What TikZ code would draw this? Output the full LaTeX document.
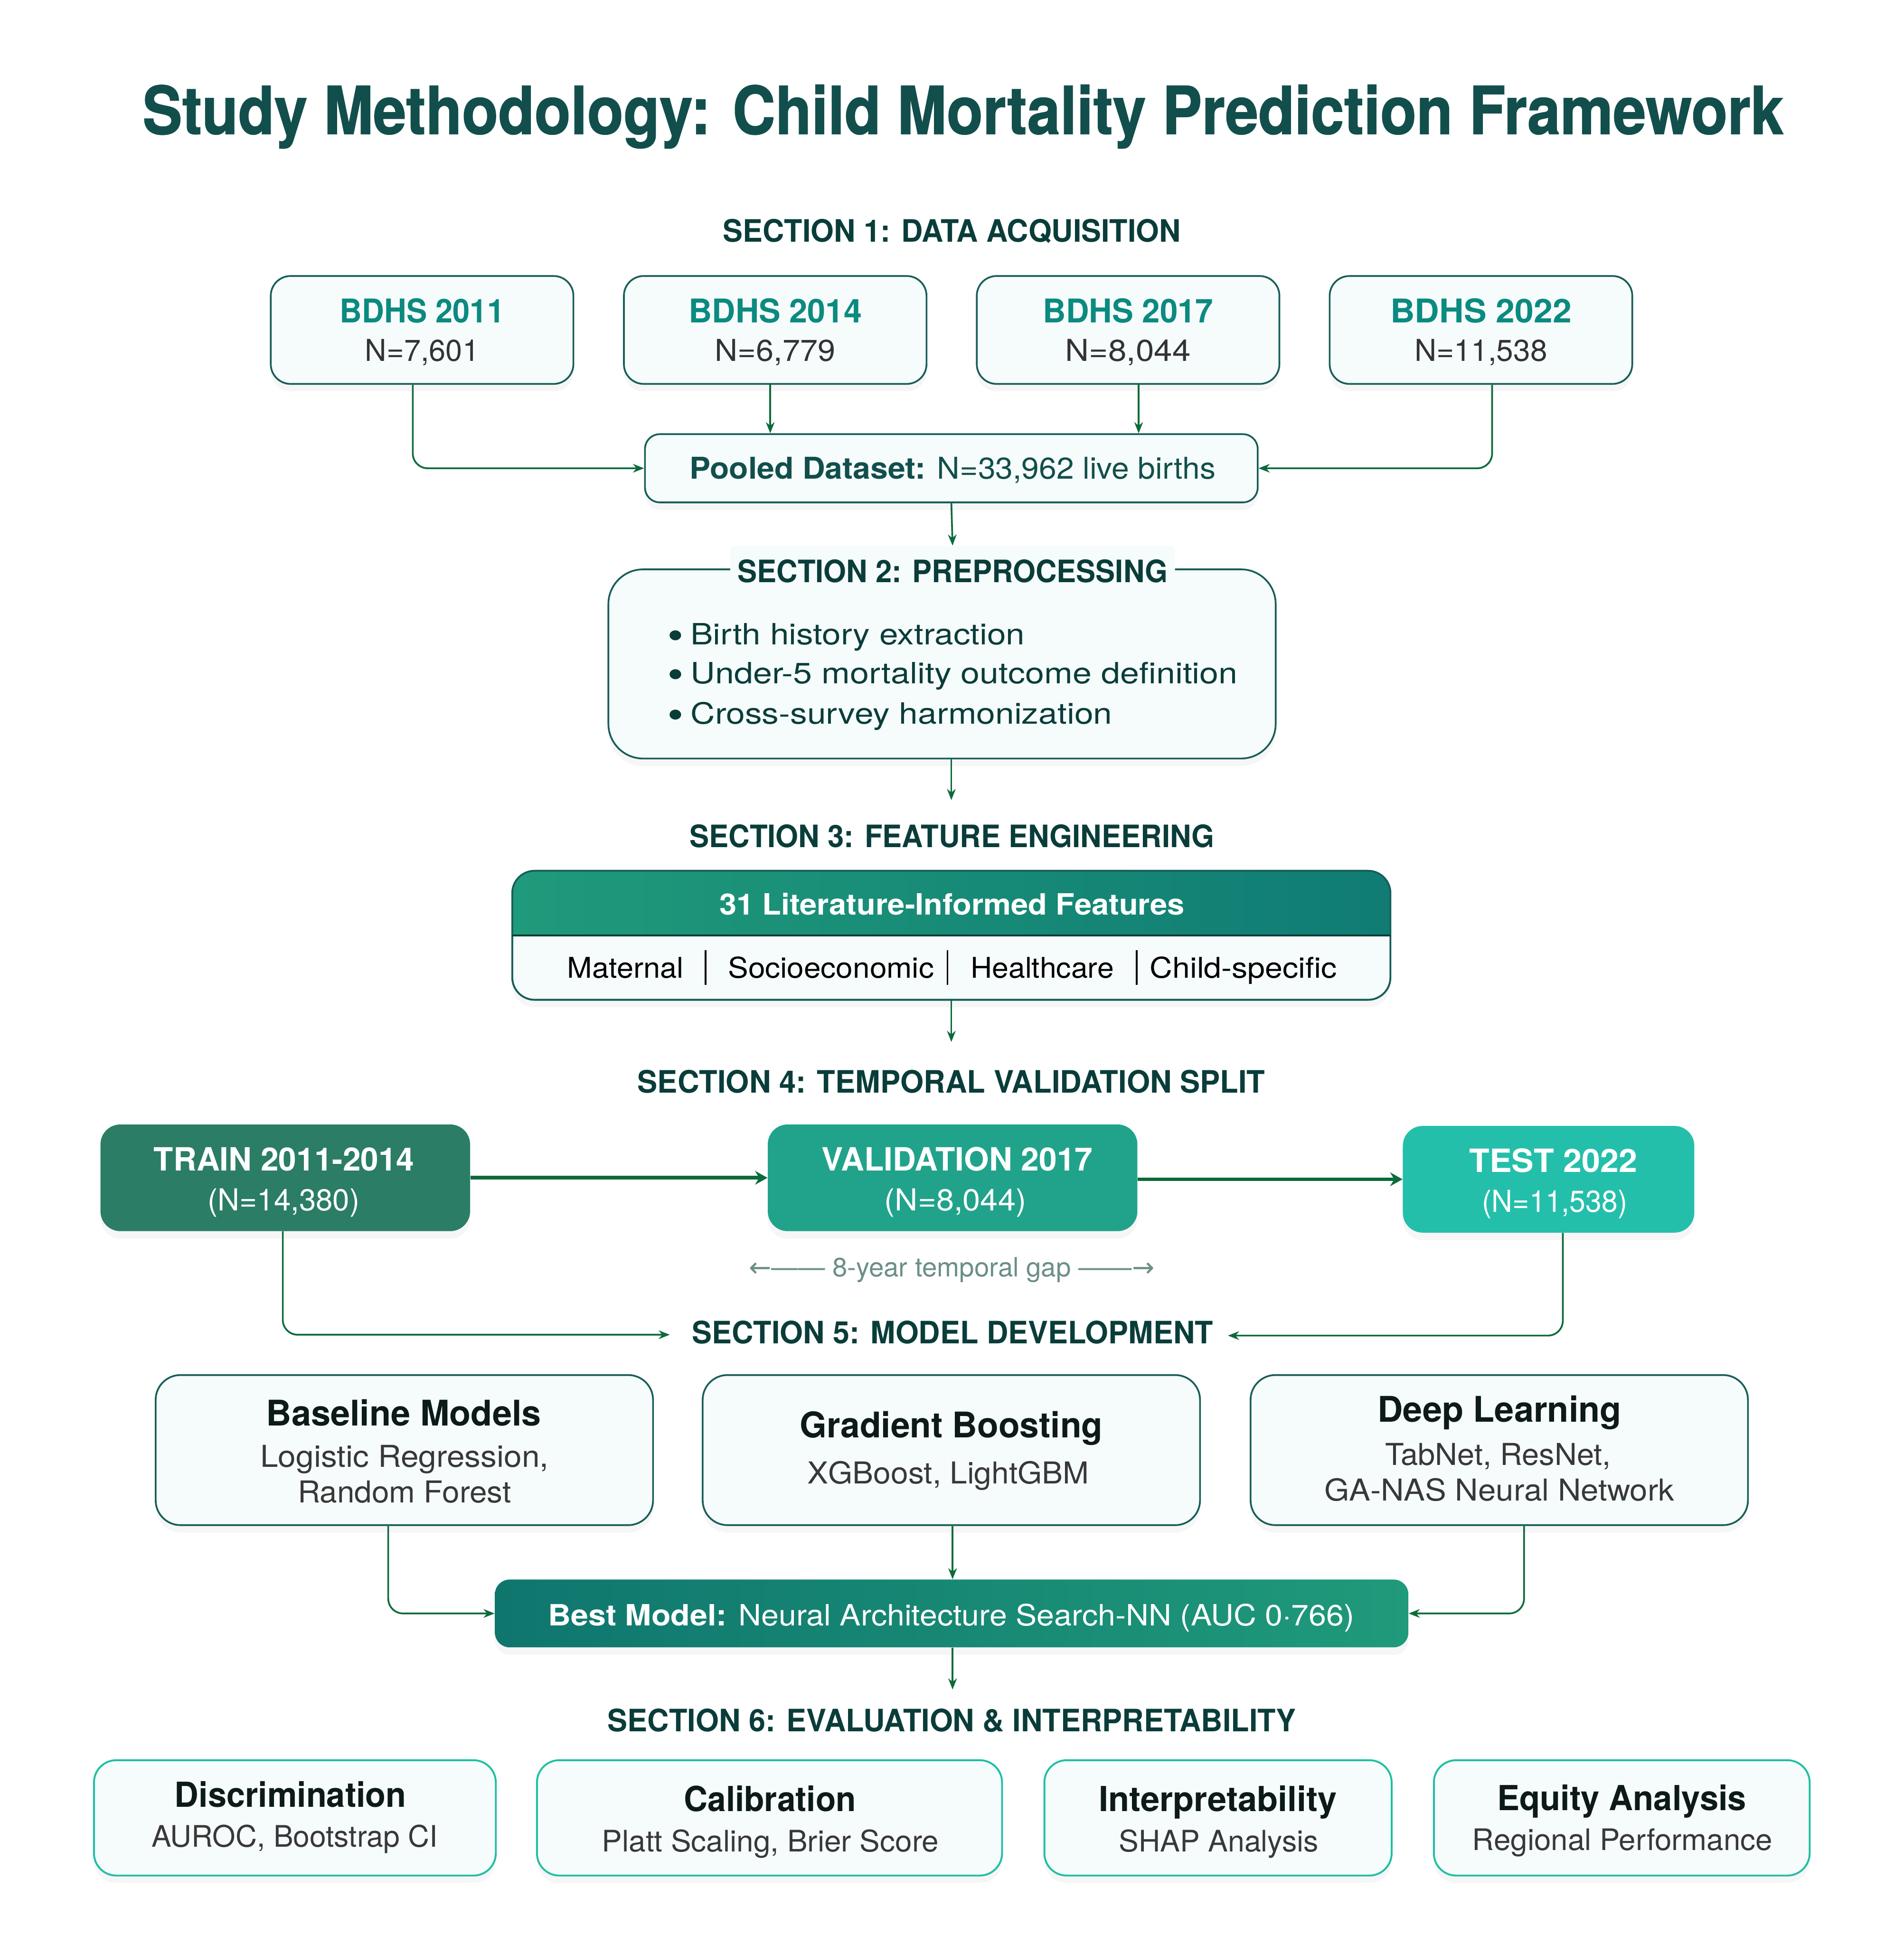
\documentclass[tikz,border=0pt]{standalone}
\usepackage{fontspec}
\usepackage{graphicx}
\setmainfont{TeX Gyre Heros}
\newfontfamily\heavyfont{TeX Gyre Heros}[BoldFeatures={FakeBold=1.2}]
\newfontfamily\symfont{DejaVu Sans}
\usetikzlibrary{arrows.meta,shadows}
\newcommand\myfs[1]{\fontsize{#1}{#1}\selectfont}
\newcommand\fw[2]{\resizebox{#1pt}{\height}{#2}}
\newcommand\bul{\raisebox{4.5pt}{\symfont\fontsize{10.5}{10.5}\selectfont ●}\hspace{6pt}}
\definecolor{titlec}{HTML}{124F4C}
\definecolor{secc}{HTML}{0A3D3A}
\definecolor{bordc}{HTML}{175E58}
\definecolor{fillc}{HTML}{F6FBFB}
\definecolor{bdhsc}{HTML}{0B8A80}
\definecolor{numc}{HTML}{333333}
\definecolor{arrc}{HTML}{0B6B3A}
\definecolor{trainc}{HTML}{2B7D66}
\definecolor{valc}{HTML}{21A38B}
\definecolor{testc}{HTML}{24BFAB}
\definecolor{gA}{HTML}{1F9A7A}
\definecolor{gB}{HTML}{107C74}
\definecolor{gapc}{HTML}{6B8F88}
\definecolor{evalc}{HTML}{20BFA4}
\definecolor{darkt}{HTML}{0C1A18}
\definecolor{subt}{HTML}{383838}
\tikzset{
  shad/.style={drop shadow={opacity=0.07, shadow xshift=0pt, shadow yshift=-6pt}},
  sbox/.style={draw=bordc, line width=1.4pt, fill=fillc, rounded corners=16pt, inner sep=0pt, shad},
  mbox/.style={draw=bordc, line width=1.4pt, fill=fillc, rounded corners=20pt, inner sep=0pt, shad, minimum width=401pt, minimum height=121pt},
  ebox/.style={draw=evalc, line width=1.5pt, fill=fillc, rounded corners=18pt, inner sep=0pt, shad, minimum height=93pt},
  splitbox/.style={rounded corners=16pt, inner sep=0pt, shad, minimum height=86pt},
  sechead/.style={anchor=base, text=secc, font=\myfs{24.9}\bfseries, inner sep=0pt},
  txt/.style={anchor=base, inner sep=0pt},
  conn/.style={draw=arrc, line width=1.4pt, rounded corners=12pt, -{Stealth[length=9pt,width=7pt]}},
  thickconn/.style={draw=arrc, line width=3pt, -{Stealth[length=10pt,width=11pt]}},
}
\begin{document}
\begin{tikzpicture}[x=1pt,y=-1pt]
\useasboundingbox[fill=white] (0,0) rectangle (1535,1568);

% Title
\node[txt, text=titlec, font=\heavyfont\myfs{53.3}\bfseries] (title) at (776.5,108) {\fw{1323}{Study Methodology: Child Mortality Prediction Framework}};

% Section 1
\node[sechead] (s1) at (767.5,195) {\fw{369}{SECTION 1: DATA ACQUISITION}};
\node[sbox, minimum width=244pt, minimum height=87pt] (b1) at (340.3,266) {};
\node[sbox, minimum width=244pt, minimum height=87pt] (b2) at (625,266) {};
\node[sbox, minimum width=244pt, minimum height=87pt] (b3) at (909.5,266) {};
\node[sbox, minimum width=244pt, minimum height=87pt] (b4) at (1194,266) {};
\foreach \n/\x/\yr/\wa/\num/\wb in {1/340.3/2011/132.6/7{,}601/92, 2/625/2014/139.6/6{,}779/97.2, 3/909.5/2017/137.3/8{,}044/101, 4/1194/2022/146/11{,}538/107}{
  \node[txt, text=bdhsc, font=\myfs{26.4}\bfseries] (bt\n) at (\x,260) {\fw{\wa}{BDHS \yr}};
  \node[txt, text=numc, font=\myfs{24.3}] (bn\n) at (\x,291) {\fw{\wb}{N=\num}};
}
\node[sbox, rounded corners=12pt, minimum width=494pt, minimum height=55pt] (pool) at (767,377.5) {};
\node[txt, text=titlec, font=\myfs{24.2}] (poolt) at (768,386) {\fw{424}{\textbf{Pooled Dataset:} N=33,962 live births}};

\draw[conn] ([xshift=-7.5pt]b1.south) |- (pool.west);
\draw[conn] ([xshift=-4pt]b2.south) -- ([xshift=-4pt]b2.south |- pool.north);
\draw[conn] ([xshift=8.5pt]b3.south) -- ([xshift=8.5pt]b3.south |- pool.north);
\draw[conn] ([xshift=9pt]b4.south) |- (pool.east);

% Section 2
\node[sbox, rounded corners=28pt, minimum width=538pt, minimum height=152.5pt] (prep) at (759.5,535.25) {};
\node[txt, fill=fillc, inner xsep=6pt, inner ysep=11pt, rounded corners=4pt, text=secc, font=\myfs{24.9}\bfseries] (s2) at (768,469.5) {\fw{346.6}{SECTION 2: PREPROCESSING}};
\draw[conn] (pool.south) -- (s2.north);
\node[txt, anchor=base west, text=secc, font=\myfs{23.6}] (p1) at (539,519.5) {\fw{287}{\bul Birth history extraction}};
\node[txt, anchor=base west, text=secc, font=\myfs{23.6}] (p2) at (539,551) {\fw{458.7}{\bul Under-5 mortality outcome definition}};
\node[txt, anchor=base west, text=secc, font=\myfs{23.6}] (p3) at (539,583.5) {\fw{357.5}{\bul Cross-survey harmonization}};

% Section 3
\node[sechead] (s3) at (767.5,683) {\fw{423}{SECTION 3: FEATURE ENGINEERING}};
\coordinate (s3top) at (767,645);
\draw[conn] (prep.south -| s3top) -- (s3top);
\node[draw=bordc, line width=1.4pt, fill=fillc, rounded corners=18pt, inner sep=0pt, shad, minimum width=708pt, minimum height=104pt] (feat) at (767,754) {};
\begin{scope}
  \clip[rounded corners=18pt] (413,702) rectangle (1121,806);
  \shade[left color=gA, right color=gB] (413,702) rectangle (1121,754);
\end{scope}
\draw[bordc, line width=1.4pt, rounded corners=18pt] (413,702) rectangle (1121,806);
\draw[secc, line width=1.6pt] (413,754) -- (1121,754);
\node[txt, text=white, font=\myfs{23.6}\bfseries] (feath) at (767.5,737.5) {\fw{375}{31 Literature-Informed Features}};
\node[txt, text=black, font=\myfs{23}] (f1) at (504.2,788.5) {\fw{93.6}{Maternal}};
\node[txt, text=black, font=\myfs{23}] (f2) at (670,788.5) {\fw{166}{Socioeconomic}};
\node[txt, text=black, font=\myfs{23}] (f3) at (840.3,788.5) {\fw{115.5}{Healthcare}};
\node[txt, text=black, font=\myfs{23}] (f4) at (1002.5,788.5) {\fw{151}{Child-specific}};
\foreach \x in {568.8,763.8,916.5}{\draw[black, line width=1.3pt] (\x,766) -- (\x,794);}

% Section 4
\coordinate (s4top) at (767,840);
\draw[conn] (feat.south) -- (s4top);
\node[sechead] (s4) at (767,881) {\fw{506}{SECTION 4: TEMPORAL VALIDATION SPLIT}};
\node[splitbox, fill=trainc, minimum width=298pt] (train) at (230,949.5) {};
\node[splitbox, fill=valc, minimum width=298pt] (val) at (768,949.5) {};
\node[splitbox, fill=testc, minimum width=235pt] (test) at (1248.5,950.7) {};
\node[txt, text=white, font=\myfs{25.8}\bfseries] (trt) at (229,944) {\fw{210}{TRAIN 2011-2014}};
\node[txt, text=white, font=\myfs{24.4}] (trn) at (228.7,976) {\fw{122.6}{(N=14,380)}};
\node[txt, text=white, font=\myfs{25.8}\bfseries] (vat) at (771.8,944) {\fw{218.4}{VALIDATION 2017}};
\node[txt, text=white, font=\myfs{24.4}] (van) at (770.2,976) {\fw{114.4}{(N=8,044)}};
\node[txt, text=white, font=\myfs{25.8}\bfseries] (tet) at (1252.3,945) {\fw{135.5}{TEST 2022}};
\node[txt, text=white, font=\myfs{24.4}] (ten) at (1253.5,977) {\fw{117}{(N=11,538)}};
\draw[thickconn] (train.east) -- (val.west);
\draw[thickconn] (val.east |- test.west) -- (test.west);
\node[txt, text=gapc, font=\myfs{21.4}] (gap) at (767.3,1029) {\fw{327}{{\symfont ←}—— 8-year temporal gap ——{\symfont →}}};

% Section 5
\node[sechead] (s5) at (768,1083.3) {\fw{420}{SECTION 5: MODEL DEVELOPMENT}};
\coordinate (s5l) at (540,1076);
\coordinate (s5r) at (990,1076.7);
\draw[conn] ([xshift=-2pt]train.south) |- (s5l);
\draw[conn] ([xshift=11.5pt]test.south) |- (s5r);

\node[mbox] (base) at (326,1169) {};
\node[mbox] (grad) at (767,1169) {};
\node[mbox] (deep) at (1208.75,1169) {};
\node[txt, text=darkt, font=\myfs{28.5}\bfseries] (bat) at (325.5,1149.5) {\fw{221.6}{Baseline Models}};
\node[txt, text=subt, font=\myfs{24.3}] (ba1) at (326.1,1182.5) {\fw{232.4}{Logistic Regression,}};
\node[txt, text=subt, font=\myfs{24.3}] (ba2) at (326.1,1211.4) {\fw{172}{Random Forest}};
\node[txt, text=darkt, font=\myfs{28.5}\bfseries] (grt) at (767,1159) {\fw{244}{Gradient Boosting}};
\node[txt, text=subt, font=\myfs{24.3}] (gr1) at (764.5,1196) {\fw{227}{XGBoost, LightGBM}};
\node[txt, text=darkt, font=\myfs{28.5}\bfseries] (det) at (1209,1146.3) {\fw{196.5}{Deep Learning}};
\node[txt, text=subt, font=\myfs{24.3}] (de1) at (1207.7,1181) {\fw{182}{TabNet, ResNet,}};
\node[txt, text=subt, font=\myfs{24.3}] (de2) at (1209,1210) {\fw{282}{GA-NAS Neural Network}};

\node[rounded corners=12pt, inner sep=0pt, shad, left color=gB!95!black, right color=gA, minimum width=736.5pt, minimum height=54.7pt] (best) at (767.25,1300.7) {};
\node[txt, text=white, font=\myfs{23.6}] (bestt) at (767,1310.6) {\fw{650}{\textbf{Best Model:} Neural Architecture Search-NN (AUC 0·766)}};
\draw[conn] ([xshift=-13pt]base.south) |- (best.west);
\draw[conn] ([xshift=1pt]grad.south) -- ([xshift=1pt]grad.south |- best.north);
\draw[conn] ([xshift=20pt]deep.south) |- (best.east);

% Section 6
\coordinate (s6top) at (768,1362);
\draw[conn] ([xshift=0.75pt]best.south) -- (s6top);
\node[sechead] (s6) at (767.5,1396) {\fw{555}{SECTION 6: EVALUATION \& INTERPRETABILITY}};
\node[ebox, minimum width=324pt] (e1) at (237.75,1465.5) {};
\node[ebox, minimum width=375pt] (e2) at (620.4,1465.5) {};
\node[ebox, minimum width=280pt] (e3) at (982,1465.5) {};
\node[ebox, minimum width=303pt] (e4) at (1307.5,1465.5) {};
\node[txt, text=darkt, font=\myfs{27.8}\bfseries] (e1t) at (234.2,1456.7) {\fw{186.8}{Discrimination}};
\node[txt, text=subt, font=\myfs{23.9}] (e1s) at (237.5,1488.8) {\fw{230.5}{AUROC, Bootstrap CI}};
\node[txt, text=darkt, font=\myfs{27.8}\bfseries] (e2t) at (620.8,1460.3) {\fw{138.8}{Calibration}};
\node[txt, text=subt, font=\myfs{23.9}] (e2s) at (621.1,1492.8) {\fw{271.6}{Platt Scaling, Brier Score}};
\node[txt, text=darkt, font=\myfs{27.8}\bfseries] (e3t) at (982,1460.3) {\fw{192}{Interpretability}};
\node[txt, text=subt, font=\myfs{23.9}] (e3s) at (982.5,1492.8) {\fw{161}{SHAP Analysis}};
\node[txt, text=darkt, font=\myfs{27.8}\bfseries] (e4t) at (1307.5,1459.5) {\fw{201}{Equity Analysis}};
\node[txt, text=subt, font=\myfs{23.9}] (e4s) at (1308,1491.8) {\fw{242}{Regional Performance}};
\end{tikzpicture}
\end{document}
